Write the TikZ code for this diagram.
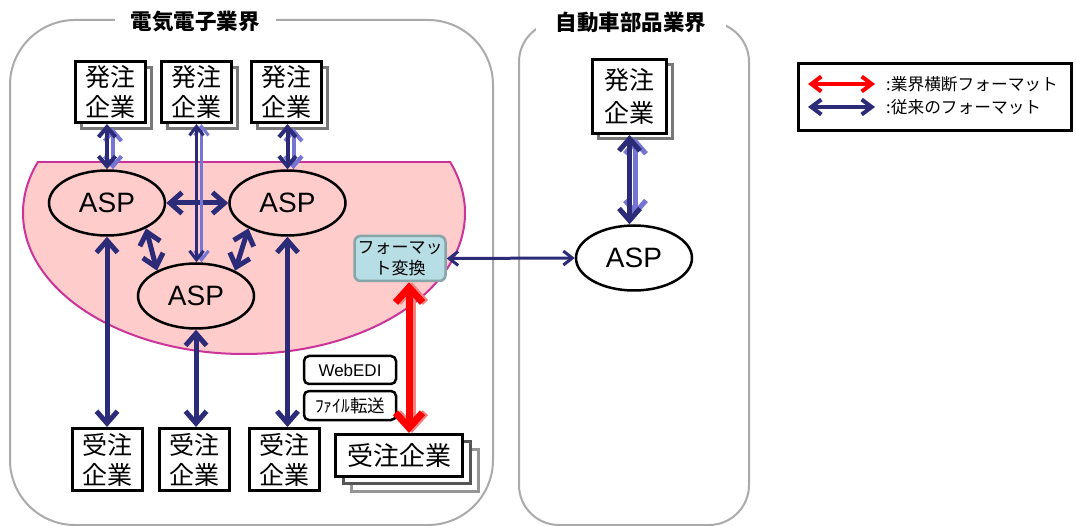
\documentclass[tikz,border=0pt]{standalone}
\usepackage{fontspec}
\setmainfont{Noto Sans CJK JP}
\newfontfamily\latinf{Liberation Sans}
\usetikzlibrary{arrows.meta,shapes.geometric}
\definecolor{navy}{RGB}{43,43,120}
\definecolor{shadowpurple}{RGB}{118,118,210}
\definecolor{pinkfill}{RGB}{255,204,204}
\definecolor{pinkline}{RGB}{204,51,153}
\definecolor{fmtfill}{RGB}{183,222,228}
\definecolor{fmtline}{RGB}{135,165,168}
\definecolor{framegray}{RGB}{170,170,170}
\definecolor{lightred}{RGB}{255,130,130}
\definecolor{darkgraybox}{RGB}{85,85,85}
\definecolor{lightgraybox}{RGB}{150,150,150}
\definecolor{shadowgray}{RGB}{120,120,120}
\begin{document}
\begin{tikzpicture}[x=1pt,y=-1pt,
  nbig/.tip={Straight Barb[length=12pt,width=21pt]},
  nmid/.tip={Straight Barb[length=10pt,width=17pt]},
  nthin/.tip={Straight Barb[length=9pt,width=14pt]},
  rbig/.tip={Straight Barb[length=15pt,width=27pt]},
  nleg/.tip={Straight Barb[length=10pt,width=15pt]},
  groupframe/.style={draw=framegray, line width=2pt},
  grouptitle/.style={fill=white, inner xsep=16pt, inner ysep=1pt, font=\fontsize{21.5}{24}\selectfont\bfseries},
  company/.style={draw=black, fill=white, line width=3pt, inner sep=0pt, minimum width=70pt, minimum height=61pt, align=center, font=\fontsize{25}{30}\selectfont},
  compshadow/.style={draw=shadowgray, fill=white, line width=3pt, inner sep=0pt, minimum width=70pt, minimum height=61pt},
  asp/.style={ellipse, draw=black, line width=2.5pt, inner sep=0pt, minimum width=116pt, minimum height=65pt, font=\latinf\fontsize{28}{30}\selectfont},
  tagbox/.style={draw=black, fill=white, line width=2.5pt, rounded corners=5pt, inner sep=0pt, minimum width=92pt, minimum height=28pt},
  thickarrow/.style={draw=navy, line width=5pt, nbig-nbig},
  midarrow/.style={draw=navy, line width=4pt, nmid-nmid},
  midshadow/.style={draw=shadowpurple, line width=4pt, nmid-nmid},
  thinarrow/.style={draw=navy, line width=3pt, nthin-nthin},
  thinshadow/.style={draw=shadowpurple, line width=3pt, nthin-nthin},
  legtext/.style={anchor=west, inner sep=0pt, font=\fontsize{16.7}{18}\selectfont}
]
\useasboundingbox (0,0) rectangle (1076,526);

% group frames
\draw[groupframe, rounded corners=65pt] (10,20) rectangle (493,525);
\draw[groupframe, rounded corners=40pt] (519,22) rectangle (749,525);
\node[grouptitle] (t1) at (195,21) {電気電子業界};
\node[grouptitle, inner xsep=20pt] (t2) at (631,22) {自動車部品業界};

% pink region
\begin{scope}
\clip (0,162) rectangle (1076,526);
\fill[pinkfill] (244,213) ellipse [x radius=221pt, y radius=141pt];
\draw[pinkline, line width=2pt] (244,213) ellipse [x radius=221pt, y radius=141pt];
\end{scope}
\draw[pinkline, line width=2pt] (38,162) -- (450,162);

% ordering companies
\node[compshadow] (s1) at (116,98) {};
\node[company] (h1) at (110,92) {発注\\企業};
\node[compshadow] (s2) at (202.5,98) {};
\node[company] (h2) at (196.5,92) {発注\\企業};
\node[compshadow] (s3) at (292.5,98) {};
\node[company] (h3) at (286.5,92) {発注\\企業};
\node[compshadow, minimum width=74pt, minimum height=74pt] (sr) at (635.5,102) {};
\node[company, minimum width=74pt, minimum height=74pt, font=\fontsize{25}{33}\selectfont] (hr) at (629.5,96.5) {発注\\企業};

% ASP
\node[asp] (a1) at (107,203) {ASP};
\node[asp] (a2) at (287.5,203) {ASP};
\node[asp] (a3) at (196,296) {ASP};
\node[asp, fill=white] (ar) at (634,258) {ASP};

% format conversion
\node[draw=fmtline, fill=fmtfill, line width=2.5pt, rounded corners=6pt, inner sep=0pt,
      minimum width=91pt, minimum height=45pt, align=center,
      font=\fontsize{17}{20.5}\selectfont] (fmt) at (400,258.5) {フォーマッ\\ト変換};

% receiving companies
\node[company, minimum height=62pt] (j1) at (107.5,459.5) {受注\\企業};
\node[company, minimum height=62pt] (j2) at (194.5,459.5) {受注\\企業};
\node[company, minimum height=62pt] (j3) at (284.5,459.5) {受注\\企業};
\node[draw=lightgraybox, fill=white, line width=3pt, minimum width=127pt, minimum height=42pt] (j4c) at (415,470.5) {};
\node[draw=darkgraybox, fill=white, line width=3pt, minimum width=127pt, minimum height=42pt] (j4b) at (407,462.5) {};
\node[company, minimum width=127pt, minimum height=42pt, font=\fontsize{26}{28}\selectfont] (j4) at (399,455.5) {受注企業};

% tags
\node[tagbox, font=\latinf\fontsize{17}{20}\selectfont] (web) at (350,370) {WebEDI};
\node[tagbox, minimum height=29pt, font=\fontsize{17.5}{20}\selectfont] (ftp) at (350,405.5) {ﾌｧｲﾙ転送};

% connectors: ordering companies to ASP
\draw[midshadow] ([xshift=6pt,yshift=-4pt]a1.north |- h1.south) -- ([xshift=6pt]a1.north);
\draw[midarrow] (a1.north |- h1.south) -- (a1.north);
\draw[midshadow] ([xshift=6pt,yshift=-4pt]a2.north |- h3.south) -- ([xshift=6pt]a2.north);
\draw[midarrow] (a2.north |- h3.south) -- (a2.north);
\draw[thickarrow] (a1.east) -- (a2.west);
\draw[thinshadow] ([xshift=5pt]h2.south) -- ([xshift=5pt]h2.south |- a3.north);
\draw[thinarrow] (h2.south) -- (h2.south |- a3.north);

% ASP to ASP
\draw[thickarrow] (a1.-33) -- (a3.147);
\draw[thickarrow] (a2.213) -- (a3.33);

% ASP to receiving
\draw[thickarrow] (a1.south) -- (a1.south |- j1.north);
\draw[thickarrow] (a3.south) -- (a3.south |- j2.north);
\draw[thickarrow] (a2.south) -- (a2.south |- j3.north);

% right side
\draw[draw=shadowpurple, line width=5pt, nbig-nbig] ([xshift=6pt,yshift=-3pt]hr.south) -- ([xshift=6pt,yshift=8pt]hr.south |- ar.north);
\draw[thickarrow] (hr.south) -- (hr.south |- ar.north);
\draw[thinarrow] (fmt.east) -- (ar.west);

% cross-industry red arrow
\draw[draw=lightred, line width=7pt, rbig-rbig] ([xshift=12pt]fmt.south) -- ([xshift=12pt]fmt.south |- j4.north);
\draw[draw=red, line width=7pt, rbig-rbig] ([xshift=9pt]fmt.south) -- ([xshift=9pt]fmt.south |- j4.north);

% legend
\node[draw=black, line width=3pt, minimum width=273pt, minimum height=67pt] (legend) at (935,97) {};
\coordinate (lr1a) at (808,84);
\coordinate (lr1b) at (875,84);
\coordinate (lr2a) at (808,107);
\coordinate (lr2b) at (875,107);
\draw[draw=red, line width=4pt, nleg-nleg] (lr1a) -- (lr1b);
\draw[draw=navy, line width=4pt, nleg-nleg] (lr2a) -- (lr2b);
\node[legtext] (lt1) at (886,84) {:業界横断フォーマット};
\node[legtext] (lt2) at (886,107) {:従来のフォーマット};
\end{tikzpicture}
\end{document}
